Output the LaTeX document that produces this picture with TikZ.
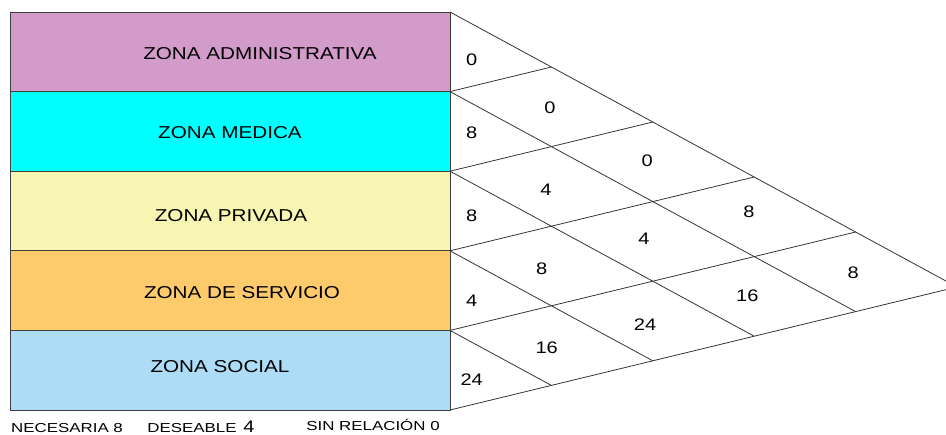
\documentclass[tikz,border=0pt]{standalone}
\usepackage{fontspec}
\setmainfont{Liberation Sans}
\newfontfamily\ancha[FakeStretch=1.2]{Liberation Sans}
\newfontfamily\anchaley[FakeStretch=1.3]{Liberation Sans}
\usetikzlibrary{calc}
\definecolor{cAdmin}{RGB}{211,155,201}
\definecolor{cMedica}{RGB}{0,255,255}
\definecolor{cPrivada}{RGB}{248,244,178}
\definecolor{cServicio}{RGB}{253,203,107}
\definecolor{cSocial}{RGB}{173,221,246}
\tikzset{
	zona/.style={draw=black!75,line width=0.5pt},
	rejilla/.style={draw=black!80,line width=0.45pt},
	etiqueta/.style={font=\ancha\fontsize{9.8}{12}\selectfont,inner sep=0pt},
	valor/.style={font=\ancha\fontsize{9.5}{12}\selectfont,inner sep=0pt},
	leyenda/.style={font=\anchaley\fontsize{7.4}{9}\selectfont,inner sep=0pt}
}

\begin{document}
\begin{tikzpicture}[x=0.2mm,y=-0.2mm]
	\useasboundingbox (0,0) rectangle (946,435);
	\clip (0,0) rectangle (946,435);
	% zonas
	\draw [zona,fill=cAdmin] (10,12) rectangle (450,91.6);
	\draw [zona,fill=cMedica] (10,91.6) rectangle (450,171.2);
	\draw [zona,fill=cPrivada] (10,171.2) rectangle (450,250.8);
	\draw [zona,fill=cServicio] (10,250.8) rectangle (450,330.4);
	\draw [zona,fill=cSocial] (10,330.4) rectangle (450,410);
	\coordinate (L0) at (450,12);
	\coordinate (L1) at (450,91.6);
	\coordinate (L2) at (450,171.2);
	\coordinate (L3) at (450,250.8);
	\coordinate (L4) at (450,330.4);
	\coordinate (L5) at (450,410);
	% rejilla de relaciones
	\draw [rejilla] (L0) -- ++(507,275);
	\draw [rejilla] (L1) -- ++(405.6,220);
	\draw [rejilla] (L2) -- ++(304.2,165);
	\draw [rejilla] (L3) -- ++(202.8,110);
	\draw [rejilla] (L4) -- ++(101.4,55);
	\draw [rejilla] (L1) -- ++(101.4,-24.6);
	\draw [rejilla] (L2) -- ++(202.8,-49.2);
	\draw [rejilla] (L3) -- ++(304.2,-73.8);
	\draw [rejilla] (L4) -- ++(405.6,-98.4);
	\draw [rejilla] (L5) -- ++(507,-123);
	\node [etiqueta] (adm) at (260,54) {ZONA ADMINISTRATIVA};
	\node [etiqueta] (med) at (230,133) {ZONA MEDICA};
	\node [etiqueta] (pri) at (231,216) {ZONA PRIVADA};
	\node [etiqueta] (ser) at (242,293) {ZONA DE SERVICIO};
	\node [etiqueta] (soc) at (220,367) {ZONA SOCIAL};
	% valores
	\node [valor] (v01) at (471.7,59.3) {0};
	\node [valor] (v02) at (471.7,132.7) {8};
	\node [valor] (v03) at (471.7,216) {8};
	\node [valor] (v04) at (471.7,301) {4};
	\node [valor] (v05) at (471.7,380) {24};
	\node [valor] (v12) at (550,107.3) {0};
	\node [valor] (v13) at (546,189.3) {4};
	\node [valor] (v14) at (541.7,268.3) {8};
	\node [valor] (v15) at (546.7,347.7) {16};
	\node [valor] (v23) at (647.3,160.7) {0};
	\node [valor] (v24) at (644,239) {4};
	\node [valor] (v25) at (645,325) {24};
	\node [valor] (v34) at (749,211.7) {8};
	\node [valor] (v35) at (747.3,295.7) {16};
	\node [valor] (v45) at (853.3,272.3) {8};
	% leyenda
	\node [leyenda] (nec) at (67,428) {NECESARIA 8};
	\node [leyenda] (des) at (192,428) {DESEABLE};
	\node [valor] (des4) at (249,426.5) {4};
	\node [leyenda] (sin) at (373,424.5) {SIN RELACIÓN 0};
\end{tikzpicture}
\end{document}
